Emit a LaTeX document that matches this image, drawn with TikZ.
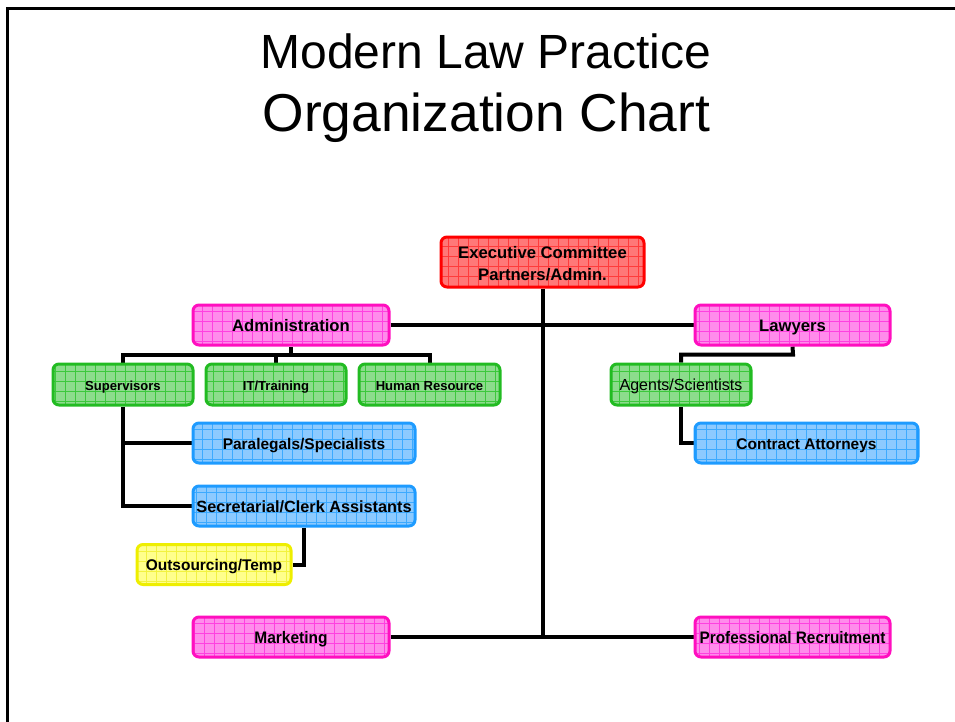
\documentclass[tikz,border=0pt]{standalone}
\usepackage{fontspec}
\setmainfont{Liberation Sans}
\usepackage{graphicx}
\usetikzlibrary{backgrounds}
\definecolor{magb}{HTML}{FF0FBF}
\definecolor{magf}{HTML}{FF8CEB}
\definecolor{magg}{HTML}{FF40E0}
\definecolor{grnb}{HTML}{22BB22}
\definecolor{grnf}{HTML}{8CDC8C}
\definecolor{grng}{HTML}{3CC83C}
\definecolor{blub}{HTML}{1E9BFF}
\definecolor{bluf}{HTML}{8CCAFF}
\definecolor{blug}{HTML}{3CAAFF}
\definecolor{yelb}{HTML}{EEEE00}
\definecolor{yelf}{HTML}{FFFF8C}
\definecolor{yelg}{HTML}{F2F240}
\definecolor{redb}{HTML}{FF0000}
\definecolor{redf}{HTML}{FF7878}
\definecolor{redg}{HTML}{FF3C3C}
\tikzset{
  wh/.style 2 args={minimum width=#1*0.75pt, minimum height=#2*0.75pt},
  box/.style={draw, line width=2.25pt, rounded corners=4.5pt, inner sep=0pt, align=center, text=black,
              font=\bfseries\fontsize{12.5}{15}\selectfont},
  oneline/.style={text height=0.96em, text depth=0pt},
  gridded/.style={path picture={\draw[#1, line width=0.5pt, sharp corners, step=7.5pt]
      (path picture bounding box.south west) grid (path picture bounding box.north east);}},
  magbox/.style={box, oneline, draw=magb, fill=magf, gridded=magg},
  grnbox/.style={box, oneline, draw=grnb, fill=grnf, gridded=grng},
  blubox/.style={box, oneline, draw=blub, fill=bluf, gridded=blug},
  yelbox/.style={box, oneline, draw=yelb, fill=yelf, gridded=yelg},
  redbox/.style={box, draw=redb, fill=redf, gridded=redg},
  small/.style={font=\bfseries\fontsize{9.8}{12}\selectfont},
  mid/.style={font=\bfseries\fontsize{11.6}{14}\selectfont},
  conn/.style={line width=3pt, black},
  titletext/.style={anchor=base},
}
\begin{document}
\begin{tikzpicture}[x=0.75pt, y=-0.75pt]
\useasboundingbox (0,0) rectangle (955,721);
\draw[line width=2.25pt] (7.5,740) -- (7.5,8) -- (970,8);

\node[titletext, font=\fontsize{36}{45}\selectfont] (title1) at (486,68.5) {Modern Law Practice};
\node[titletext, font=\fontsize{40}{48}\selectfont] (title2) at (486.5,131) {Organization Chart};

\node[redbox, wh={203}{50}] (exec) at (542.5,262) {\begin{tabular}{@{}c@{}}\rule{0pt}{15pt}Executive Committee\\[1.5pt]Partners/Admin.\end{tabular}};
\node[magbox, wh={196}{40}] (admin) at (291,325) {Administration};
\node[magbox, wh={195}{40}] (lawyers) at (792.5,325) {Lawyers};
\node[grnbox, small, wh={140}{41}] (sup) at (123,384.5) {Supervisors};
\node[grnbox, small, wh={140}{41}] (it) at (276,384.5) {IT/Training};
\node[grnbox, small, wh={141}{41}] (hr) at (429.5,384.5) {Human Resource};
\node[grnbox, wh={140}{41}, font=\fontsize{12}{14}\selectfont] (agents) at (681,384.5) {Agents/Scientists};
\node[blubox, mid, wh={222}{40}] (para) at (304,443) {Paralegals/Specialists};
\node[blubox, mid, wh={223}{40}] (contract) at (806.5,443) {Contract Attorneys};
\node[blubox, font=\bfseries\fontsize{12.2}{14}\selectfont, wh={222}{40}] (sec) at (304,506) {Secretarial/Clerk Assistants};
\node[yelbox, mid, wh={154}{40}] (out) at (214,564.5) {Outsourcing/Temp};
\node[magbox, wh={196}{40}] (mkt) at (291,637) {\scalebox{0.93}[1]{Marketing}};
\node[magbox, wh={195}{40}] (prof) at (792.5,637) {\scalebox{0.92}[1]{Professional Recruitment}};

\coordinate (abus) at (291,355);
\coordinate (lbus) at (793,354.5);

\begin{scope}[on background layer]
\draw[conn] (exec.south) -- (exec.south |- mkt.east);
\draw[conn] (admin.east) -- (lawyers.west);
\draw[conn] (mkt.east) -- (prof.west);
\draw[conn] (admin.south) -- (abus);
\draw[conn] (sup.north) -- (sup.north |- abus) -- (hr.north |- abus) -- (hr.north);
\draw[conn] (it.north) -- (it.north |- abus);
\draw[conn] (sup.south) |- (sec.west);
\draw[conn] (sup.south |- para.west) -- (para.west);
\draw[conn] (sec.south) |- (out.east);
\draw[conn] (lawyers.south) -- (lbus) -| (agents.north);
\draw[conn] (agents.south) |- (contract.west);
\end{scope}
\end{tikzpicture}
\end{document}
